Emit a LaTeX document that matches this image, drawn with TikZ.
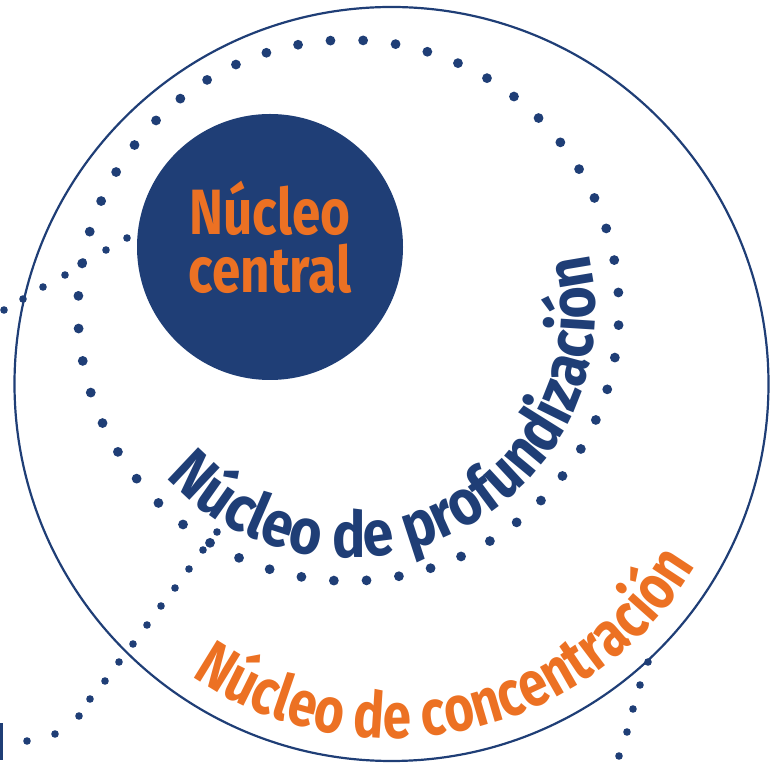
\documentclass[tikz,border=0pt]{standalone}
\usepackage{fontspec}
\newfontfamily\corefont[FakeStretch=0.8]{Fira Sans}
\newfontfamily\arcfont[FakeStretch=0.87]{Fira Sans}
\usetikzlibrary{decorations.text,calc}

\definecolor{navy}{RGB}{31,62,118}
\definecolor{corange}{RGB}{236,113,35}

\tikzset{
    ring/.style={draw=navy, line width=2.2pt},
    bigdot/.style={fill=navy},
    smalldot/.style={fill=navy},
    core/.style={circle, fill=navy, minimum size=266pt, inner sep=0pt},
    coretext/.style={text=corange, align=center, font=\corefont\bfseries\fontsize{64}{58}\selectfont},
}

\begin{document}
\begin{tikzpicture}[x=1pt, y=1pt]
    \useasboundingbox (0,0) rectangle (777,763);

    \coordinate (outc) at (391.5,379);
    \coordinate (midc) at (348.5,452.5);

    % outer ring
    \draw[ring] (outc) circle[radius=377pt];

    % dotted ring
    \foreach \i in {0,...,51}
        \fill[bigdot] ($(midc)+(86.9+\i*6.923:270.5)$) circle (4.9pt);

    % small dotted traces
    \foreach \p in {(4,453),(23,464),(43,476),(65,488),(83,501),(106,513),(127,525)}
        \fill[smalldot] \p circle (3.8pt);
    \foreach \p in {(27,22),(55,29),(79,47),(90,64),(105,82),(119,101),(133,119),
                    (147,138),(161,157),(175,175),(189,194),(203,213),(217,231)}
        \fill[smalldot] \p circle (3.8pt);
    \foreach \p in {(648,101),(640,78),(633,54),(627,31),(619,7)}
        \fill[smalldot] \p circle (3.8pt);
    \fill[navy] (0,3) rectangle (3,40);

    % central core
    \node[core] (central) at (270,516) {};
    \node[coretext] (centraltext) at ([yshift=10pt]central.center) {Núcleo\\central};

    % curved labels
    \path[decorate, decoration={text along path, text align=center, text color=navy,
        text={|\arcfont\bfseries\fontsize{64}{64}\selectfont|Núcleo de profundización}}]
        ($(midc)+(207.85:247)$) arc[start angle=207.85, end angle=387.85, radius=247pt];
    \path[decorate, decoration={text along path, text align=center, text color=corange,
        text={|\corefont\bfseries\fontsize{64}{64}\selectfont|Núcleo de concentración}}]
        ($(outc)+(192.4:354)$) arc[start angle=192.4, end angle=372.4, radius=354pt];
\end{tikzpicture}
\end{document}
